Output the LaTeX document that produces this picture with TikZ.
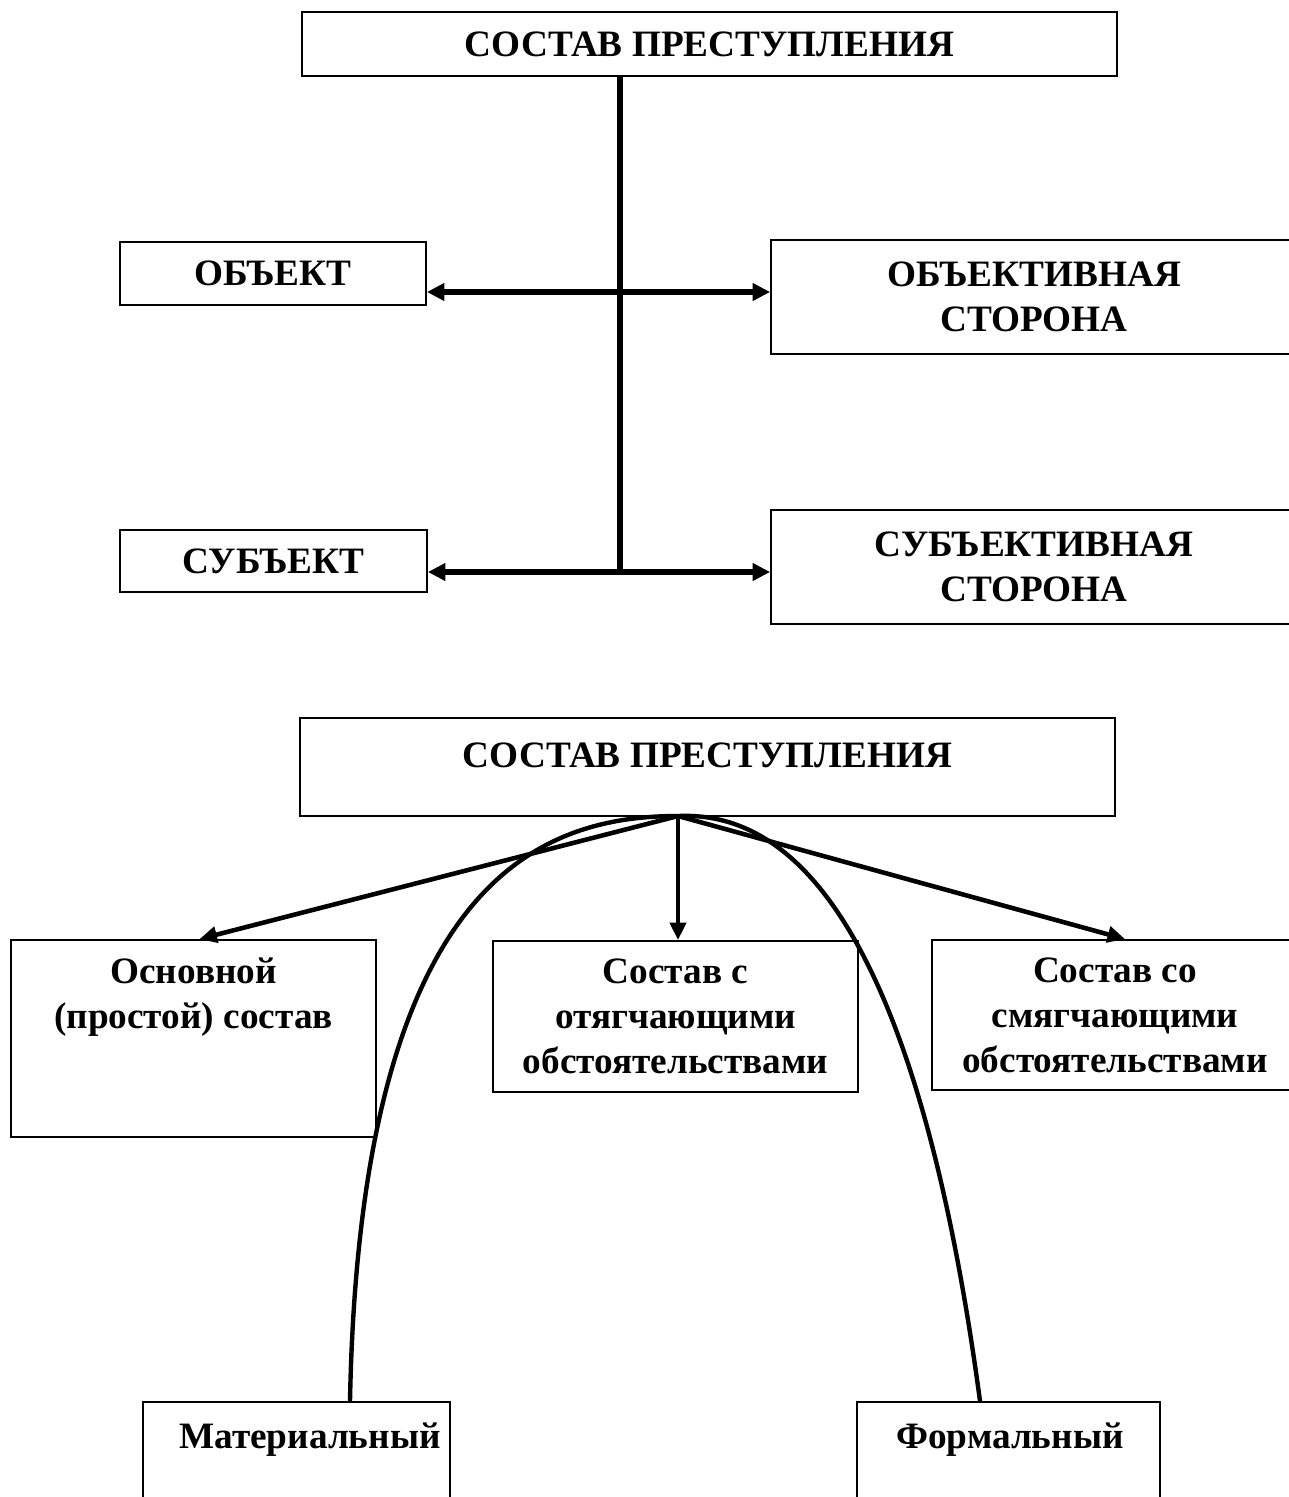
\documentclass[tikz,border=0pt]{standalone}
\usepackage{fontspec}
\setmainfont{Liberation Serif}
\usetikzlibrary{arrows.meta}

\tikzset{
  box/.style={draw, line width=1.1pt, inner sep=0pt, align=center,
    font=\fontsize{21.2pt}{25.6pt}\selectfont\bfseries},
  txt/.style={inner sep=0pt, align=center,
    font=\fontsize{21.2pt}{25.6pt}\selectfont\bfseries},
  link/.style={line width=3.2pt},
  biarrow/.style={line width=3pt,
    {Triangle[length=0.35cm,width=0.34cm]}-{Triangle[length=0.35cm,width=0.34cm]}},
  ray/.style={line width=2.6pt, -{Triangle[length=0.35cm,width=0.32cm]}},
  arch/.style={line width=2.5pt},
}

\begin{document}
\begin{tikzpicture}[x=0.02cm, y=-0.02cm]
    \useasboundingbox (0,0) rectangle (1288,1497);

    % Upper scheme
    \node[box, minimum width=16.3cm, minimum height=1.28cm] (top1) at (709.5,44) {СОСТАВ ПРЕСТУПЛЕНИЯ};
    \node[box, minimum width=6.12cm, minimum height=1.26cm] (obj) at (273,273.5) {ОБЪЕКТ};
    \node[box, minimum width=10.52cm, minimum height=2.28cm] (objside) at (1034,297) {ОБЪЕКТИВНАЯ\\СТОРОНА};
    \node[box, minimum width=6.14cm, minimum height=1.24cm] (subj) at (273.5,561) {СУБЪЕКТ};
    \node[box, minimum width=10.52cm, minimum height=2.28cm] (subjside) at (1034,567) {СУБЪЕКТИВНАЯ\\СТОРОНА};

    \coordinate (hubA) at (620,292);
    \coordinate (hubB) at (620,572);
    \draw[link] (top1.south -| hubA) -- (hubB);
    \draw[biarrow] (obj.east |- hubA) -- (objside.west |- hubA);
    \draw[biarrow] (subj.east |- hubB) -- (subjside.west |- hubB);

    % Lower scheme
    \node[box, minimum width=16.3cm, minimum height=1.96cm] (top2) at (707.5,767) {};
    \node[txt] (top2text) at (707.5,755) {СОСТАВ ПРЕСТУПЛЕНИЯ};
    \node[box, minimum width=7.3cm, minimum height=3.94cm] (osn) at (193.5,1038.5) {};
    \node[txt] (osntext) at (193.5,997.5) {Основной\\(простой) состав};
    \node[box, minimum width=7.3cm, minimum height=3.02cm] (aggr) at (675.5,1016.5) {Состав с\\отягчающими\\обстоятельствами};
    \node[box, minimum width=7.32cm, minimum height=3.0cm] (mitig) at (1115,1015) {Состав со\\смягчающими\\обстоятельствами};
    \node[box, minimum width=6.14cm, minimum height=2.16cm] (mat) at (296.5,1456) {};
    \node[txt] (mattext) at (310,1440) {Материальный};
    \node[box, minimum width=6.06cm, minimum height=2.16cm] (form) at (1008.5,1456) {};
    \node[txt] (formtext) at (1010,1440) {Формальный};

    \coordinate (apex) at (678,816);
    \draw[ray] (apex) -- ([xshift=0.12cm]osn.north);
    \draw[ray] (apex) -- (apex |- aggr.north);
    \draw[ray] (apex) -- ([xshift=0.2cm]mitig.north);

    % Arch between material and formal
    \draw[arch] (mat.north -| 350,0) .. controls (360,880) and (540,816) .. (apex)
        .. controls (770,812) and (910,880) .. (form.north -| 980,0);
\end{tikzpicture}
\end{document}
